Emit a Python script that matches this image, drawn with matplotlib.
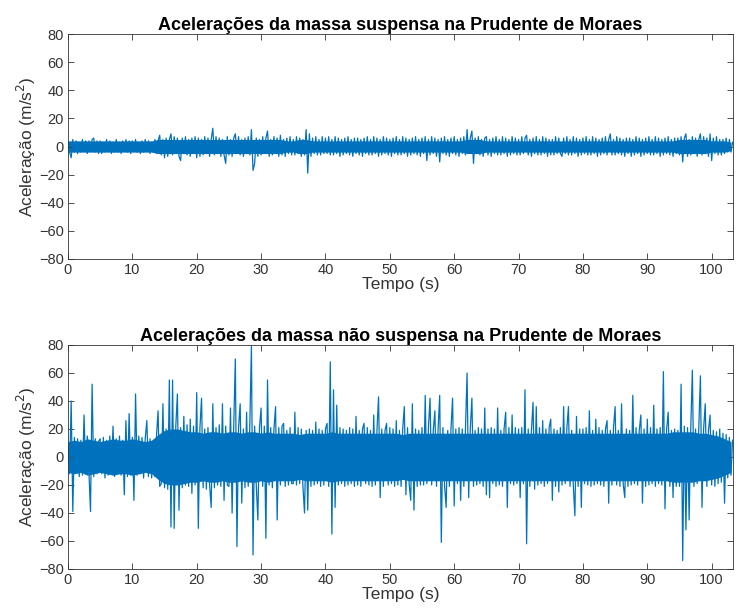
import matplotlib
matplotlib.use("Agg")
import matplotlib.pyplot as plt
import numpy as np

plt.rcParams['font.family'] = ['Liberation Sans', 'DejaVu Sans']

# sample spacing of the hand-read series (s)
dt = 0.25

# sprung mass acceleration (m/s^2), read every 0.25 s
suspensa = [
    3, -4, -8, 5, -4, 4, -5, 3, -4, 5, -3, 4, -5, 4, -3, 5, 6, -4, 4, -5,
    4, -5, 3, -4, 5, -3, 4, -5, 3, -4, 5, -4, 3, -5, 4, -3, 5, -4, 4, -5,
    4, -3, 5, -4, 3, -5, 4, -4, 5, -3, 4, -5, 3, -4, 5, -5, 4, 8, -6, 5,
    -8, 6, -7, 5, 9, -6, 7, -5, 6, -7, -10, 6, -5, 7, -6, 5, -7, 6, -5, 7,
    -8, 6, -7, 5, -6, 7, -5, 6, -7, 5, 13, -6, 7, -5, 6, -7, 5, -6, -12, 7,
    -6, 5, -7, 6, 9, -5, 7, -6, 5, -7, 6, -5, 7, -6, 12, -17, -12, 6, -7, 5,
    -6, 7, -5, 6, 11, -7, 5, -6, 7, -5, 6, -7, 8, -6, 5, -7, 6, -5, 7, -6,
    5, -6, 7, -5, 6, -7, 5, -6, 12, -19, 9, -7, 6, -5, 7, -6, 5, -6, 7, -5,
    6, -5, 7, -6, 5, -6, 7, -5, 6, -7, 5, -6, 6, -5, 7, -6, 5, -7, 6, -5,
    6, -6, 5, -7, 6, -5, 7, -6, 5, -6, 7, -5, 6, -7, 5, -6, 7, -5, 6, -6,
    5, -7, 6, -5, 7, -6, 5, -6, 7, -5, 6, -7, 5, -6, 6, -5, 7, -6, 5, -7,
    6, -5, 7, -10, 5, -6, 7, -5, 6, -7, 5, -11, 6, -5, 7, -6, 5, -7, 6, -5,
    7, -6, 5, -7, 6, -5, 7, -6, 12, -5, 6, 11, -12, 6, -5, 7, -6, 5, -7, 6,
    7, -6, 5, -7, 6, -5, 7, -6, 5, -6, 7, -5, 6, -7, 5, -6, 7, -5, 6, -6,
    5, -6, 7, -5, 6, 8, -6, 5, -7, 6, -5, 7, -6, 5, -6, 7, -5, 6, -7, 5,
    -6, 5, -6, 7, -5, 6, -5, -7, 6, -5, 7, -6, 5, -6, 7, -5, 6, -7, 5, -6,
    6, -5, 7, -6, 5, -6, 7, -5, 6, -7, 5, -6, 6, -5, 7, -6, 5, 9, -6, 5,
    -6, 7, -5, 6, -6, 5, -7, 6, -5, 6, -7, 5, -6, 7, -5, 6, -7, 5, -6, 6,
    -5, 7, -6, 5, -6, 7, -5, 6, -7, 5, -6, 6, -5, 7, -6, 5, -7, 6, -5, 6,
    -6, 7, -11, 6, 9, -7, 5, -6, 7, -5, 6, -7, 5, 9, -6, 7, -5, 6, -7, 9,
    -10, 6, -5, 7, -6, 5, -6, 5, -5, 6, -4, 5, -4, 3,
]

# unsprung mass acceleration (m/s^2), read every 0.25 s
nao_suspensa = [
    8, -12, 40, -39, 14, -11, 13, -14, 12, -13, 30, -12, 15, -10, -39, 52, -14, 13, -12, 11,
    13, -12, 14, -15, 12, -13, 15, -11, 22, -14, 13, -12, 15, -13, 12, -27, 26, -14, 31, -13,
    14, -31, 45, -13, 15, -12, 14, -15, 13, 26, -14, 13, -15, 12, -14, 15, 33, -21, -19, 38,
    -22, 20, -23, 55, -50, 55, -51, 22, 45, -38, 21, -22, 29, -20, 23, -21, 27, -26, 22, -20,
    46, -51, 21, 42, -22, 20, -23, 21, -20, -36, 38, -22, 21, -20, 23, -21, 38, -31, 22, -20,
    -21, 35, -40, 22, 70, -64, 21, 38, -33, 20, -22, 32, -21, 23, 79, -70, 22, -20, -45, 21,
    35, -21, 22, -58, 55, -20, 21, -22, 20, 36, -45, 21, -20, 22, 24, -21, 19, -20, 21, -19,
    -19, 32, -20, 21, -19, 20, -21, -40, 19, -38, 20, -21, 19, -20, 25, -19, 20, -21, 19, -20,
    20, 24, -21, 68, -55, 48, -36, 37, -20, 21, -19, 20, -21, 19, -20, 21, -19, 20, -21, 29,
    -20, 19, -21, 20, 24, -19, 21, -20, 19, -21, 30, -20, 19, 43, -29, 20, -21, 19, 24, -20,
    21, -19, 20, -21, 26, -20, 19, -21, 20, 36, -27, 21, -19, -31, 38, -38, 20, -21, 19, -20,
    21, -20, 44, -19, 21, 42, -20, 19, 33, -21, 20, 44, -61, 21, -20, -36, 19, -21, 20, 42,
    -35, 20, -19, 21, -31, 20, -21, 19, 60, -29, 20, 42, -21, 19, -20, 21, -19, 20, -21, 35,
    -27, 20, -29, 21, -19, 20, -21, 35, -20, 19, -21, 20, 32, -36, 21, -19, 30, -20, 21, -19,
    20, -29, 21, -19, 48, -62, 20, -21, 19, 39, -23, 36, -20, 21, -19, 26, -21, 20, -19, 21,
    27, -31, 20, -21, 19, -25, 21, -20, 36, -19, 20, 36, -21, 19, -20, -42, 29, -21, 20, -36,
    20, -19, 21, -20, 33, -21, 19, -20, 27, -19, 21, -20, 19, -21, 20, 26, -33, 19, -20, 21,
    36, -20, 19, -21, 38, -19, -29, 20, -21, 19, -20, 44, -19, 21, -20, 19, 30, -33, 20, -21,
    27, -20, 21, -19, 37, -21, 20, -19, 21, -20, 61, -37, 20, 32, -21, 19, -29, 20, -21, 19,
    -21, 52, -74, 22, -52, 21, -45, 20, 62, -21, 20, -19, 21, 58, -36, 20, 38, -21, 19, 30,
    -20, 19, -21, 18, -19, 20, -18, 17, -33, 16, -15, 14, -13, 12,
]

# half-width of the dense core of each signal, read once per second (t = 0..103)
nucleo_suspensa = [
    4, 4, 4, 4, 4, 4, 4, 4, 4, 4,
    4, 4, 4, 4, 5, 5, 5, 5, 5, 5,
    5, 5, 5, 5, 5, 5, 5, 5, 5, 5,
    5, 5, 5, 5, 4, 4, 5, 5, 4, 4,
    4, 4, 4, 4, 4, 4, 4, 4, 4, 4,
    4, 4, 4, 4, 4, 4, 4, 4, 4, 4,
    4, 4, 5, 5, 5, 4, 4, 4, 4, 4,
    4, 4, 4, 4, 4, 4, 4, 4, 4, 4,
    4, 4, 4, 4, 4, 4, 4, 4, 4, 4,
    4, 4, 4, 4, 4, 5, 5, 5, 5, 5,
    4, 4, 4, 3,
]
nucleo_nao_suspensa = [
    11, 12, 11, 13, 12, 11, 12, 13, 12, 12,
    13, 12, 11, 12, 16, 19, 20, 20, 19, 18,
    18, 17, 18, 18, 17, 18, 18, 17, 18, 18,
    17, 18, 17, 17, 17, 17, 16, 17, 17, 17,
    17, 18, 17, 17, 17, 17, 17, 17, 17, 17,
    17, 17, 16, 17, 17, 17, 17, 17, 17, 17,
    17, 17, 17, 17, 17, 17, 17, 17, 17, 17,
    17, 17, 17, 17, 17, 17, 17, 17, 17, 17,
    17, 17, 17, 17, 17, 17, 17, 17, 17, 17,
    17, 17, 17, 17, 18, 18, 18, 18, 17, 17,
    16, 15, 13, 11,
]

titles = [
    "Acelerações da massa suspensa na Prudente de Moraes",
    "Acelerações da massa não suspensa na Prudente de Moraes",
]
series = [suspensa, nao_suspensa]
cores = [nucleo_suspensa, nucleo_nao_suspensa]

line_color = '#0072BD'
axis_color = '#333333'

fig = plt.figure(figsize=(7.38, 6.13), dpi=100)
positions = [
    [0.0921, 0.5775, 0.901, 0.367],
    [0.0921, 0.0718, 0.901, 0.3654],
]

for pos, title, y, core in zip(positions, titles, series, cores):
    ax = fig.add_axes(pos)
    t = np.arange(len(y)) * dt
    tc = np.arange(len(core))
    core = np.array(core)
    ax.fill_between(tc, -core, core, color=line_color, linewidth=0)
    ax.plot(t, y, color=line_color, linewidth=0.9)
    ax.set_xlim(0, 103.3)
    ax.set_ylim(-80, 80)
    ax.set_xticks(np.arange(0, 101, 10))
    ax.set_yticks(np.arange(-80, 81, 20))
    ax.tick_params(direction='in', top=True, right=True, length=4,
                   width=0.6, labelsize=10.5, colors=axis_color, pad=3)
    for s in ax.spines.values():
        s.set_color(axis_color)
        s.set_linewidth(0.6)
    ax.set_title(title, fontsize=13, fontweight='bold', color='black', pad=3)
    ax.set_xlabel("Tempo (s)", fontsize=12.5, color=axis_color, labelpad=0)
    ax.set_ylabel("Aceleração (m/s$^2$)", fontsize=12.5, color=axis_color,
                  labelpad=1)

fig.savefig("out.png", dpi=100)
